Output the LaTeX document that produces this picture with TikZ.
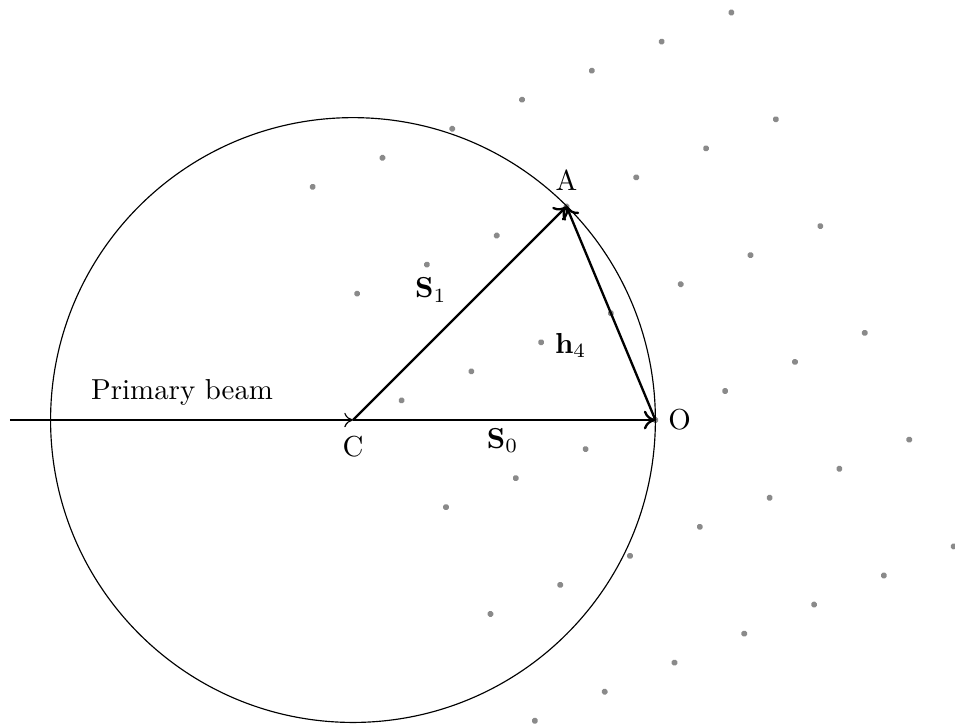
\documentclass[tikz,border=0pt]{standalone}
\usepackage{amsmath, amssymb}
\usepackage{xcolor}
\usepackage{tikz}
\usetikzlibrary{
  arrows.meta,
  positioning,
  calc,
}
\definecolor{spotgray}{HTML}{8A8A8A}

\begin{document}
\begin{tikzpicture}[
    x=0.92cm, y=0.92cm,
    vec/.style={draw=black, thick, -{To[length=4pt, width=6.5pt]}},
    beam/.style={draw=black, thin, -{To[length=3pt, width=5pt]}},
    spot/.style={fill=spotgray},
  ]
  \useasboundingbox (-4.669,-4.048) rectangle (7.963,5.556);

  \coordinate (C) at (0,0);
  \coordinate (O) at (4,0);
  \coordinate (A) at ($(O)+(112.6:3.06)$);
  \coordinate (src) at (-4.54,0);

  % reciprocal lattice points
  \begin{scope}[shift={(O)}, rotate=22.6]
    \foreach \m in {-3,...,3}
      \foreach \n in {-2,...,3}
        \fill[spot] (\m,1.53*\n) circle (1.05pt);
  \end{scope}

  % Ewald sphere
  \draw[thin] (C) circle (4);

  \draw[beam] (src) -- (C);
  \draw[vec] (C) -- (O);
  \draw[vec] (C) -- (A);
  \draw[vec] (O) -- (A);

  \node[above=2pt of A] (lA) {A};
  \node[right=1pt of O] (lO) {O};
  \node[below=2pt of C] (lC) {C};

  \node (beamlbl) at (-2.26,0.37) {Primary beam};
  \node (lS0) at (1.98,-0.27) {$\mathbf{S}_0$};
  \node (lS1) at (1.03,1.72) {$\mathbf{S}_1$};
  \node (lh4) at (2.88,0.99) {$\mathbf{h}_4$};
\end{tikzpicture}
\end{document}
